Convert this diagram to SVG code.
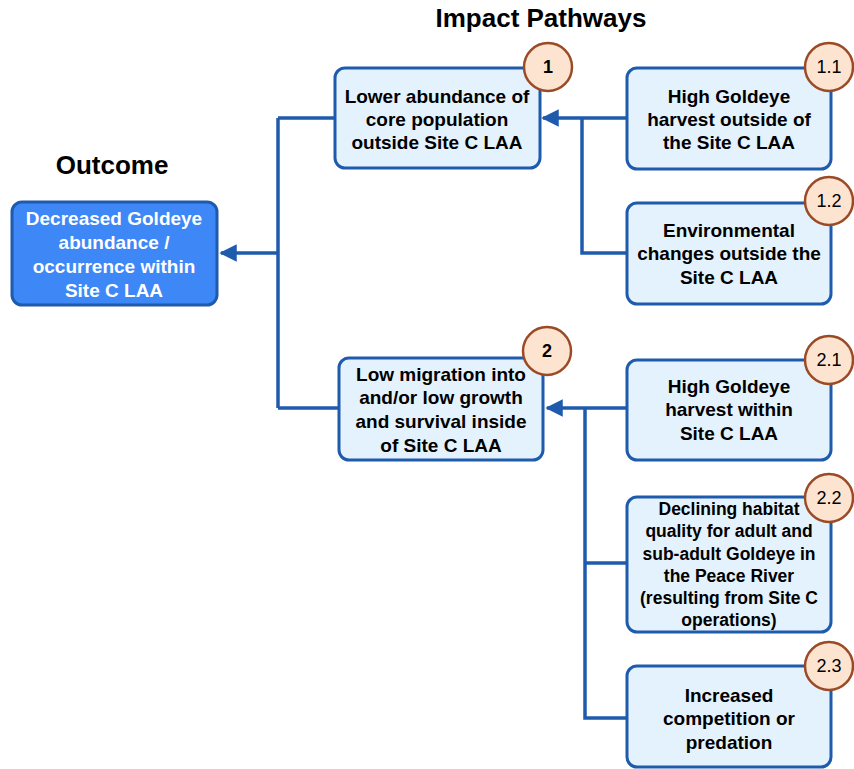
<svg xmlns="http://www.w3.org/2000/svg" width="854" height="769" viewBox="0 0 854 769">
  <defs>
    <style>
      .title { font-family: "Liberation Sans", Arial, sans-serif; font-weight: bold; font-size: 26px; fill: #000; text-anchor: middle; }
      .box { fill: #e4f2fd; stroke: #1f5bad; stroke-width: 3; }
      .outbox { fill: #3d87f7; stroke: #1f5bad; stroke-width: 3; }
      .lbl { font-family: "Liberation Sans", Arial, sans-serif; font-weight: bold; font-size: 19px; fill: #000; text-anchor: middle; }
      .small { font-size: 17.5px; }
      .outlbl { font-family: "Liberation Sans", Arial, sans-serif; font-weight: bold; font-size: 19px; fill: #fff; text-anchor: middle; }
      .badge { fill: #fde4d1; stroke: #9b4a26; stroke-width: 2.5; }
      .num { font-family: "Liberation Sans", Arial, sans-serif; font-size: 18px; fill: #000; text-anchor: middle; }
      .numb { font-weight: bold; }
      .wire { fill: none; stroke: #1f5bad; stroke-width: 3.5; }
    </style>
    <marker id="head" viewBox="0 0 10 10" refX="9" refY="5" markerWidth="5.5" markerHeight="5" markerUnits="strokeWidth" orient="auto">
      <path d="M0,0 L10,5 L0,10 z" fill="#1f5bad"/>
    </marker>
  </defs>

  <text class="title" x="541" y="27">Impact Pathways</text>
  <text class="title" x="112" y="174">Outcome</text>

  <g id="connectors">
    <path class="wire" d="M278,118 L278,408"/>
    <path class="wire" d="M335,118 L278,118"/>
    <path class="wire" d="M339,408 L278,408"/>
    <path class="wire" d="M278,253 L221,253" marker-end="url(#head)"/>
    <path class="wire" d="M627,118 L543,118" marker-end="url(#head)"/>
    <path class="wire" d="M582,118 L582,253 L627,253"/>
    <path class="wire" d="M627,408 L547,408" marker-end="url(#head)"/>
    <path class="wire" d="M585,408 L585,718 L627,718"/>
    <path class="wire" d="M585,563 L627,563"/>
  </g>

  <g id="outcome">
    <rect class="outbox" x="12" y="202" width="205" height="103" rx="10"/>
    <text class="outlbl" x="114" y="225">Decreased Goldeye</text>
    <text class="outlbl" x="114" y="249">abundance /</text>
    <text class="outlbl" x="114" y="273">occurrence within</text>
    <text class="outlbl" x="114" y="297">Site C LAA</text>
  </g>

  <g id="p1">
    <rect class="box" x="335" y="68" width="205" height="100" rx="10"/>
    <text class="lbl" x="437" y="103">Lower abundance of</text>
    <text class="lbl" x="437" y="126">core population</text>
    <text class="lbl" x="437" y="149">outside Site C LAA</text>
    <circle class="badge" cx="548" cy="67" r="24"/>
    <text class="num numb" x="548" y="73">1</text>
  </g>

  <g id="p1-1">
    <rect class="box" x="627" y="68" width="204" height="101" rx="10"/>
    <text class="lbl" x="729" y="103">High Goldeye</text>
    <text class="lbl" x="729" y="126">harvest outside of</text>
    <text class="lbl" x="729" y="149">the Site C LAA</text>
    <circle class="badge" cx="829" cy="67" r="24"/>
    <text class="num" x="829" y="73">1.1</text>
  </g>

  <g id="p1-2">
    <rect class="box" x="627" y="203" width="204" height="101" rx="10"/>
    <text class="lbl" x="729" y="237">Environmental</text>
    <text class="lbl" x="729" y="260">changes outside the</text>
    <text class="lbl" x="729" y="284">Site C LAA</text>
    <circle class="badge" cx="829" cy="201" r="24"/>
    <text class="num" x="829" y="207">1.2</text>
  </g>

  <g id="p2">
    <rect class="box" x="339" y="358" width="204" height="102" rx="10"/>
    <text class="lbl" x="441" y="381">Low migration into</text>
    <text class="lbl" x="441" y="404">and/or low growth</text>
    <text class="lbl" x="441" y="428">and survival inside</text>
    <text class="lbl" x="441" y="452">of Site C LAA</text>
    <circle class="badge" cx="547" cy="351" r="24"/>
    <text class="num numb" x="547" y="357">2</text>
  </g>

  <g id="p2-1">
    <rect class="box" x="627" y="360" width="204" height="100" rx="10"/>
    <text class="lbl" x="729" y="393">High Goldeye</text>
    <text class="lbl" x="729" y="416">harvest within</text>
    <text class="lbl" x="729" y="440">Site C LAA</text>
    <circle class="badge" cx="829" cy="360" r="24"/>
    <text class="num" x="829" y="366">2.1</text>
  </g>

  <g id="p2-2">
    <rect class="box" x="627" y="497" width="204" height="135" rx="10"/>
    <text class="lbl small" x="729" y="515">Declining habitat</text>
    <text class="lbl small" x="729" y="537">quality for adult and</text>
    <text class="lbl small" x="729" y="560">sub-adult Goldeye in</text>
    <text class="lbl small" x="729" y="582">the Peace River</text>
    <text class="lbl small" x="729" y="604">(resulting from Site C</text>
    <text class="lbl small" x="729" y="626">operations)</text>
    <circle class="badge" cx="829" cy="498" r="24"/>
    <text class="num" x="829" y="504">2.2</text>
  </g>

  <g id="p2-3">
    <rect class="box" x="627" y="666" width="204" height="101" rx="10"/>
    <text class="lbl" x="729" y="702">Increased</text>
    <text class="lbl" x="729" y="725">competition or</text>
    <text class="lbl" x="729" y="749">predation</text>
    <circle class="badge" cx="829" cy="666" r="24"/>
    <text class="num" x="829" y="672">2.3</text>
  </g>
</svg>
